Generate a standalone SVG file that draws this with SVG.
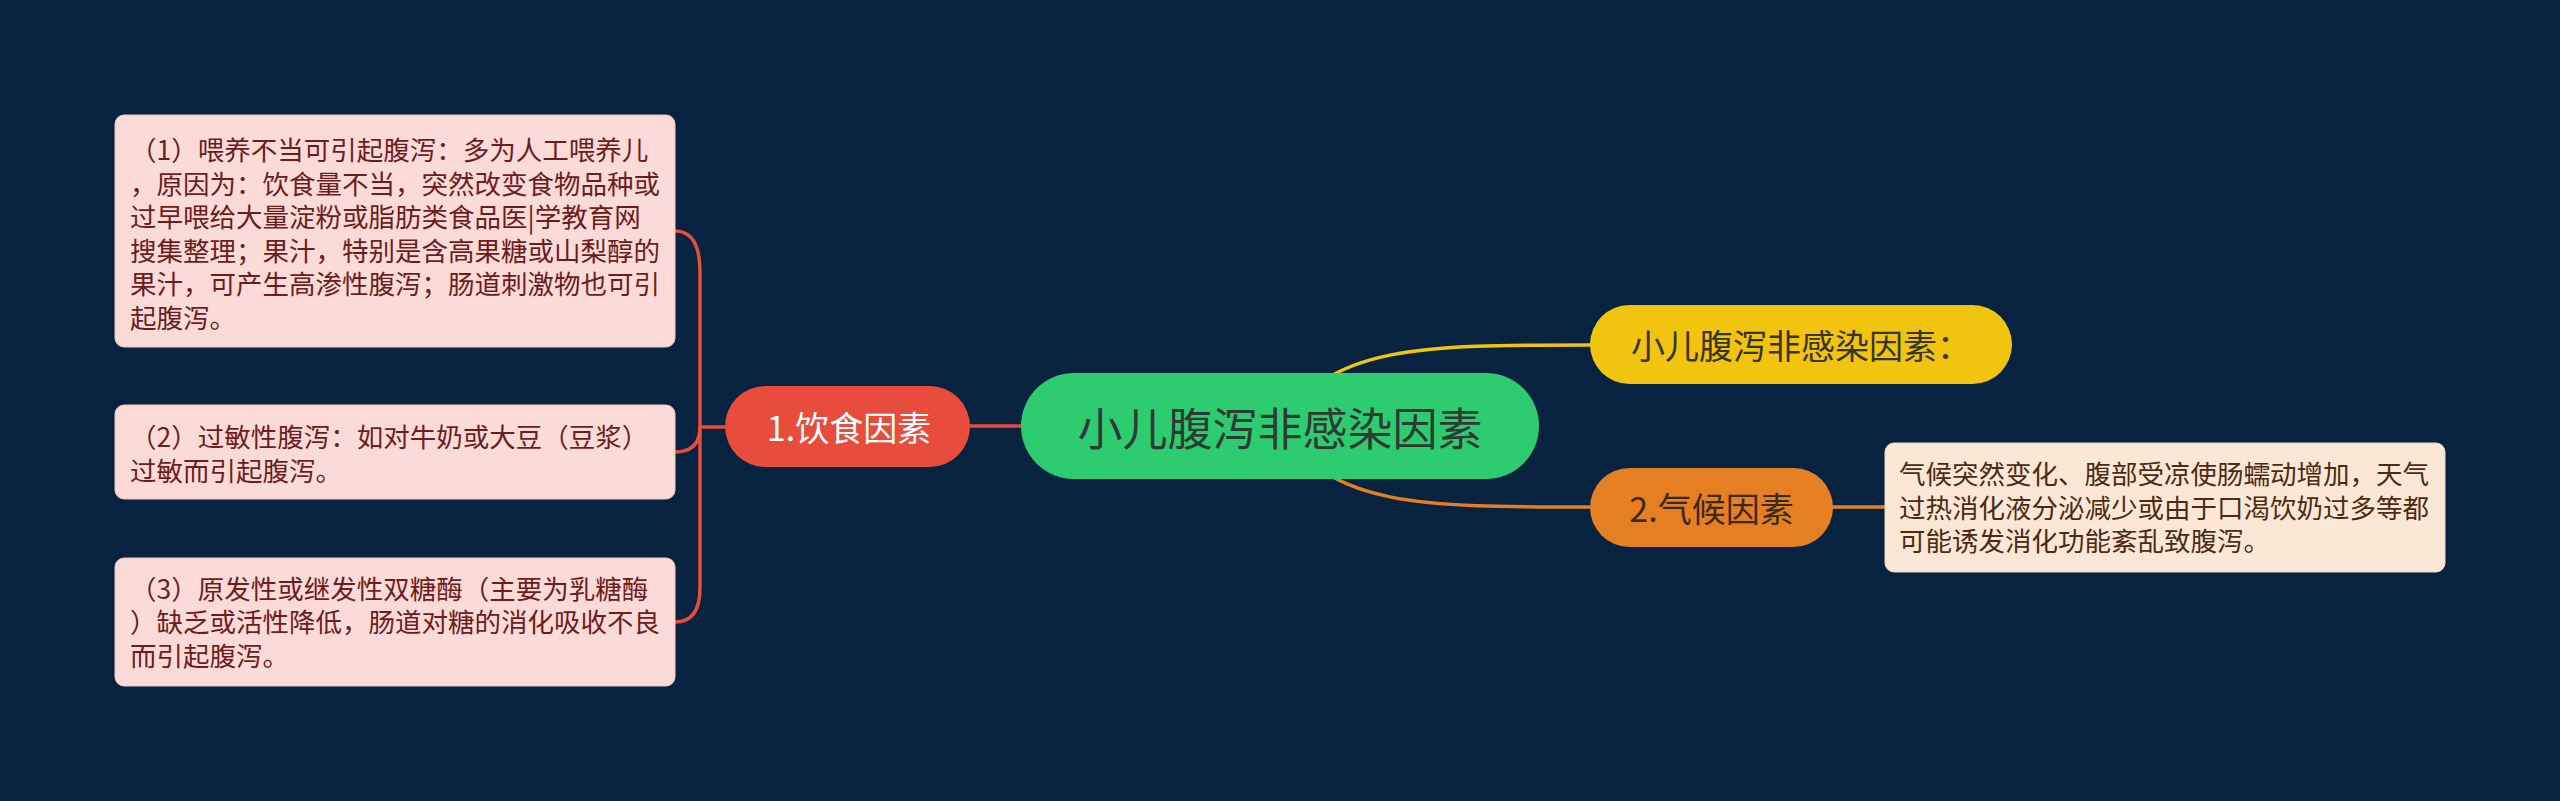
<svg xmlns="http://www.w3.org/2000/svg" width="2560" height="801" viewBox="0 0 2560 801">
<style>
  text { font-family: "Noto Sans CJK SC", "Noto Sans", sans-serif; }
  .leaf { fill: #fadbd8; stroke: #f3c6c1; stroke-width: 1; }
  .leafTxt { font-size: 26.5px; fill: #6e1c1c; }
  .leaf2 { fill: #fbe7d6; stroke: #f2d6be; stroke-width: 1; }
  .leaf2Txt { font-size: 26.5px; fill: #4e2a10; }
  .lvl1 { font-size: 34px; }
  .conn { fill: none; stroke-width: 3.5; stroke-linecap: round; }
</style>
<rect x="0" y="0" width="2560" height="801" fill="#072340"/>

<g id="connectors">
  <path class="conn" stroke="#e74c3c" d="M1021 426 H970"/>
  <path class="conn" stroke="#e74c3c" d="M725 427 H700 V272 Q700 231 675 231"/>
  <path class="conn" stroke="#e74c3c" d="M700 427 Q700 452 675 452"/>
  <path class="conn" stroke="#e74c3c" d="M700 427 V588 Q700 622 675 622"/>
  <path class="conn" stroke="#f1c40f" d="M1280 426 C1330 345 1420 345 1590 345"/>
  <path class="conn" stroke="#e67e22" d="M1280 426 C1330 507 1420 507 1590 507"/>
  <path class="conn" stroke="#e67e22" d="M1833 507 H1885"/>
</g>

<g id="root">
  <rect x="1021" y="373" width="518" height="106" rx="53" fill="#2ecc71"/>
  <text x="1280" y="426" font-size="45" fill="#2d3b33" text-anchor="middle" dominant-baseline="central">小儿腹泻非感染因素</text>
</g>

<g id="n-diet">
  <rect x="725" y="386" width="245" height="81" rx="40.5" fill="#e74c3c"/>
  <text class="lvl1" x="849" y="426.5" fill="#ffffff" text-anchor="middle" dominant-baseline="central">1.饮食因素</text>
</g>

<g id="n-title">
  <rect x="1590" y="305" width="422" height="79" rx="39.5" fill="#f1c40f"/>
  <text class="lvl1" x="1801" y="344.5" fill="#3a3320" text-anchor="middle" dominant-baseline="central">小儿腹泻非感染因素：</text>
</g>

<g id="n-climate">
  <rect x="1590" y="468" width="243" height="79" rx="39.5" fill="#e67e22"/>
  <text class="lvl1" x="1711.5" y="507.5" fill="#3b2a1a" text-anchor="middle" dominant-baseline="central">2.气候因素</text>
</g>

<g id="leaf-1">
  <rect class="leaf" x="115" y="115" width="560" height="232" rx="9"/>
  <text class="leafTxt">
    <tspan x="130" y="160">（1）喂养不当可引起腹泻：多为人工喂养儿</tspan>
    <tspan x="130" y="193.5">，原因为：饮食量不当，突然改变食物品种或</tspan>
    <tspan x="130" y="227">过早喂给大量淀粉或脂肪类食品医|学教育网</tspan>
    <tspan x="130" y="260.5">搜集整理；果汁，特别是含高果糖或山梨醇的</tspan>
    <tspan x="130" y="294">果汁，可产生高渗性腹泻；肠道刺激物也可引</tspan>
    <tspan x="130" y="327.5">起腹泻。</tspan>
  </text>
</g>

<g id="leaf-2">
  <rect class="leaf" x="115" y="405" width="560" height="94" rx="9"/>
  <text class="leafTxt">
    <tspan x="130" y="447">（2）过敏性腹泻：如对牛奶或大豆（豆浆）</tspan>
    <tspan x="130" y="481">过敏而引起腹泻。</tspan>
  </text>
</g>

<g id="leaf-3">
  <rect class="leaf" x="115" y="558" width="560" height="128" rx="9"/>
  <text class="leafTxt">
    <tspan x="130" y="598.5">（3）原发性或继发性双糖酶（主要为乳糖酶</tspan>
    <tspan x="130" y="632">）缺乏或活性降低，肠道对糖的消化吸收不良</tspan>
    <tspan x="130" y="665.5">而引起腹泻。</tspan>
  </text>
</g>

<g id="leaf-climate">
  <rect class="leaf2" x="1885" y="443" width="560" height="129" rx="9"/>
  <text class="leaf2Txt">
    <tspan x="1899" y="484">气候突然变化、腹部受凉使肠蠕动增加，天气</tspan>
    <tspan x="1899" y="517.5">过热消化液分泌减少或由于口渴饮奶过多等都</tspan>
    <tspan x="1899" y="551">可能诱发消化功能紊乱致腹泻。</tspan>
  </text>
</g>
</svg>
